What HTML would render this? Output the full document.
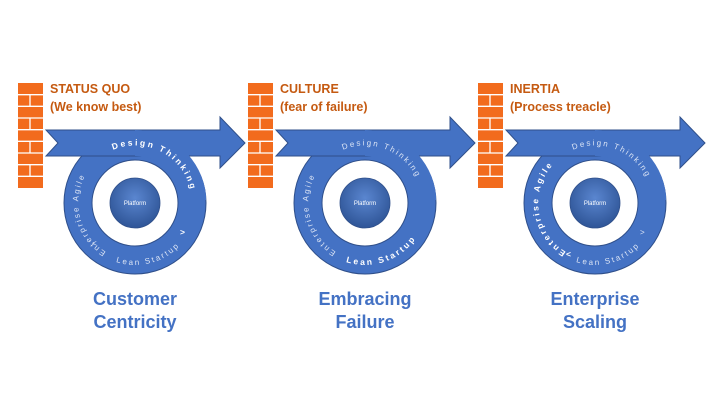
<!DOCTYPE html>
<html><head><meta charset="utf-8"><style>
html,body{margin:0;padding:0;background:#fff;width:720px;height:405px;overflow:hidden}
svg{display:block}
.hd{font-family:"Liberation Sans",sans-serif;font-weight:bold;font-size:12.5px;fill:#c55a11}
.bt{font-family:"Liberation Sans",sans-serif;font-weight:bold;font-size:18px;fill:#4472c4;text-anchor:middle}
.rt{font-family:"Liberation Sans",sans-serif;font-size:8px;letter-spacing:2px;fill:#dbe4f5}
.rb{font-family:"Liberation Sans",sans-serif;font-size:8.5px;letter-spacing:2.3px;fill:#fff;font-weight:bold}
.pl{font-family:"Liberation Sans",sans-serif;font-size:6px;fill:#fff;text-anchor:middle}
</style></head><body>
<svg width="720" height="405" viewBox="0 0 720 405" xmlns="http://www.w3.org/2000/svg">
<defs>
<radialGradient id="pg" cx="50%" cy="40%" r="60%"><stop offset="0" stop-color="#5a86d0"/><stop offset="1" stop-color="#2f5597"/></radialGradient>
<g id="wall">
<rect x="18" y="83" width="25" height="105" fill="#f26b1d"/>
<g stroke="#fff" stroke-width="1.3">
<line x1="18" y1="94.7" x2="43" y2="94.7"/><line x1="18" y1="106.3" x2="43" y2="106.3"/><line x1="18" y1="118" x2="43" y2="118"/>
<line x1="18" y1="129.7" x2="43" y2="129.7"/><line x1="18" y1="141.3" x2="43" y2="141.3"/><line x1="18" y1="153" x2="43" y2="153"/>
<line x1="18" y1="164.7" x2="43" y2="164.7"/><line x1="18" y1="176.3" x2="43" y2="176.3"/>
<line x1="30" y1="94.7" x2="30" y2="106.3"/><line x1="30" y1="118" x2="30" y2="129.7"/><line x1="30" y1="141.3" x2="30" y2="153"/><line x1="30" y1="164.7" x2="30" y2="176.3"/>
</g></g>
<g id="ring">
<circle cx="135" cy="203" r="71" fill="#4472c4" stroke="#2f4f8a" stroke-width="1"/>
<circle cx="135" cy="203" r="43" fill="#fff" stroke="#2f4f8a" stroke-width="1"/>
<circle cx="135" cy="203" r="25" fill="url(#pg)" stroke="#2f4f8a" stroke-width="0.8"/>
<text x="135" y="205" class="pl">Platform</text>
</g>
<path id="arrow" d="M46,130 L220,130 L220,117 L245,143 L220,168 L220,156 L46,156 L58,143 Z" fill="#4472c4" stroke="#2f4f8a" stroke-width="1"/>
<path id="cTop" d="M78,203 A57,57 0 1 1 175,243" fill="none"/>
<path id="cBot" d="M73,203 A62,62 0 0 0 197,203" fill="none"/>
<path id="cLeft" d="M106,252 A57,57 0 0 1 125,147" fill="none"/>
</defs>

<!-- Panel 1 -->
<g>
<use href="#ring"/><use href="#arrow"/>
<path d="M135,130 A73,73 0 0 1 206,195 L206,200 L184,200 A49,49 0 0 0 135,156 Z" fill="#4472c4"/>
<text class="rb"><textPath href="#cTop" startOffset="30%">Design Thinking</textPath></text>
<text class="rt"><textPath href="#cLeft" startOffset="0%">Enterprise Agile</textPath></text>
<text class="rt"><textPath href="#cBot" startOffset="40%">Lean Startup</textPath></text>
<text x="180" y="235" class="rb">&gt;</text>
<text x="92" y="246" class="rt">&lt;</text>
<use href="#wall"/>
<text x="50" y="93" class="hd">STATUS QUO</text><text x="50" y="111" class="hd">(We know best)</text>
<text x="135" y="305" class="bt">Customer</text><text x="135" y="328" class="bt">Centricity</text>
</g>

<!-- Panel 2 -->
<g transform="translate(230,0)">
<use href="#ring"/><use href="#arrow"/>
<path d="M135,130 A73,73 0 0 1 206,195 L206,200 L184,200 A49,49 0 0 0 135,156 Z" fill="#4472c4"/>
<text class="rt"><textPath href="#cTop" startOffset="30%">Design Thinking</textPath></text>
<text class="rt"><textPath href="#cLeft" startOffset="0%">Enterprise Agile</textPath></text>
<text class="rb"><textPath href="#cBot" startOffset="40%">Lean Startup</textPath></text>
<use href="#wall"/>
<text x="50" y="93" class="hd">CULTURE</text><text x="50" y="111" class="hd">(fear of failure)</text>
<text x="135" y="305" class="bt">Embracing</text><text x="135" y="328" class="bt">Failure</text>
</g>

<!-- Panel 3 -->
<g transform="translate(460,0)">
<use href="#ring"/><use href="#arrow"/>
<path d="M135,130 A73,73 0 0 1 206,195 L206,200 L184,200 A49,49 0 0 0 135,156 Z" fill="#4472c4"/>
<text class="rt"><textPath href="#cTop" startOffset="30%">Design Thinking</textPath></text>
<text class="rb"><textPath href="#cLeft" startOffset="0%">Enterprise Agile</textPath></text>
<text class="rt"><textPath href="#cBot" startOffset="40%">Lean Startup</textPath></text>
<text x="180" y="235" class="rt">&gt;</text>
<text x="106" y="257" class="rb">&lt;</text>
<use href="#wall"/>
<text x="50" y="93" class="hd">INERTIA</text><text x="50" y="111" class="hd">(Process treacle)</text>
<text x="135" y="305" class="bt">Enterprise</text><text x="135" y="328" class="bt">Scaling</text>
</g>
</svg>
</body></html>
